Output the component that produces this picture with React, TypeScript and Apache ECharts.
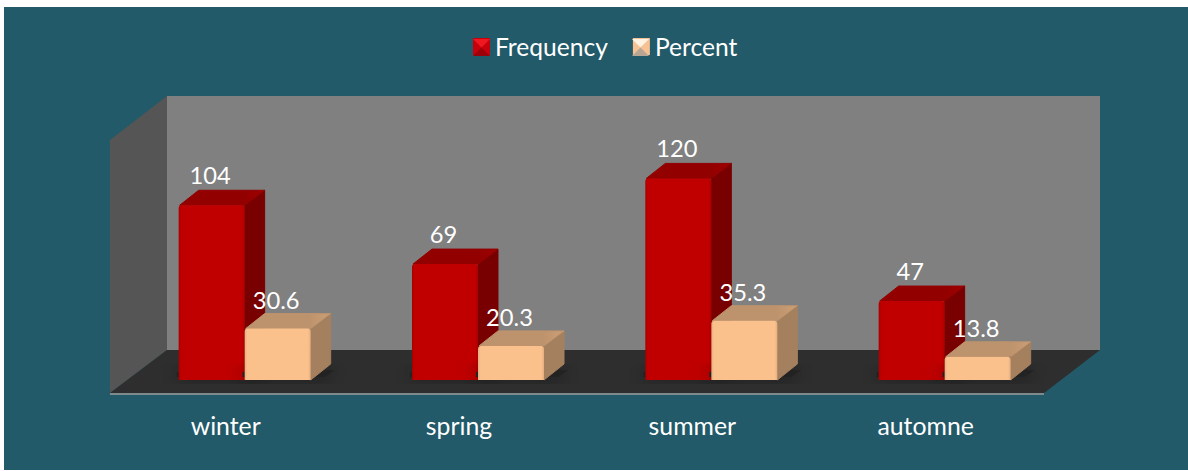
import React, { useEffect, useRef } from "react";
import * as echarts from "echarts";

const categories = ["winter", "spring", "summer", "automne"];
const frequency = [104, 69, 120, 47];
const percent = [30.6, 20.3, 35.3, 13.8];

const FONT = "Lato";
const TEXT = "#ffffff";
const BG = "#225a69";
const DX = 20;
const DY = -16;

type Tone = { front: string; edge: string; top: string; topHi: string; side: string; labelGap: number };
const RED: Tone = { front: "#c00000", edge: "#a80000", top: "#920000", topHi: "#a00000", side: "#780000", labelGap: 14 };
const PEACH: Tone = { front: "#fac18d", edge: "#e6ae7e", top: "#bd936d", topHi: "#cc9f76", side: "#a5805f", labelGap: 13 };

function barRenderer(tone: Tone, offset: number) {
  return (_params: any, api: any) => {
    const idx = api.value(0);
    const val = api.value(1);
    const top = api.coord([idx, val]);
    const base = api.coord([idx, 0]);
    const w = api.size([1, 0])[0] * 0.2829;
    const x = top[0] + offset * w;
    const yT = top[1];
    const yB = base[1];
    const hGrad = new echarts.graphic.LinearGradient(0, 0, 1, 0, [
      { offset: 0, color: tone.edge },
      { offset: 0.04, color: tone.front },
      { offset: 0.96, color: tone.front },
      { offset: 1, color: tone.edge },
    ]);
    const topGrad = new echarts.graphic.LinearGradient(0, 0, 1, 0, [
      { offset: 0, color: tone.top },
      { offset: 0.75, color: tone.top },
      { offset: 1, color: tone.topHi },
    ]);
    return {
      type: "group",
      children: [
        {
          type: "polygon",
          z2: 0,
          shape: {
            points: [[x - 2, yB - 8], [x + w + DX + 4, yB + DY + 6], [x + w + DX - 6, yB - 3], [x - 2, yB - 3]],
          },
          style: { fill: "#222222", shadowBlur: 20, shadowColor: "rgba(0,0,0,0.75)" },
          silent: true,
        },
        {
          type: "polygon",
          z2: 5,
          shape: { points: [[x + w, yT], [x + w + DX, yT + DY + 1], [x + w + DX, yB + DY], [x + w, yB]] },
          style: { fill: tone.side, stroke: tone.side, lineWidth: 1, lineJoin: "round" },
        },
        {
          type: "polygon",
          z2: 6,
          shape: { points: [[x + 1, yT], [x + DX, yT + DY + 1], [x + w + DX, yT + DY + 1], [x + w, yT]] },
          style: { fill: topGrad, stroke: tone.top, lineWidth: 1, lineJoin: "round" },
        },
        {
          type: "rect",
          z2: 7,
          shape: { x, y: yT, width: w, height: yB - yT, r: [3, 3, 0, 0] },
          style: { fill: hGrad },
        },
        {
          type: "text",
          z2: 20,
          style: {
            text: String(val),
            x: x + w / 2 - 1.5,
            y: yT + DY - tone.labelGap,
            fill: TEXT,
            fontFamily: FONT,
            fontSize: 23.7,
            align: "center",
            verticalAlign: "middle",
          },
        },
      ],
    };
  };
}

export default function App() {
  const ref = useRef<HTMLDivElement | null>(null);
  useEffect(() => {
    document.body.style.margin = "0";
    document.body.style.background = "#ffffff";
    const chart = echarts.init(ref.current!, undefined, { renderer: "svg" });
    const toData = (vals: number[]) => vals.map((v, i) => [i, v]);
    chart.setOption({
      animation: false,
      backgroundColor: "#ffffff",
      textStyle: { fontFamily: FONT },
      grid: { left: 128, width: 933.33, top: 144.8, height: 235.2 },
      legend: {
        left: 473,
        top: 34,
        padding: 0,
        icon: "rect",
        itemWidth: 17,
        itemHeight: 17,
        itemGap: 25,
        textStyle: { color: TEXT, fontSize: 24.6, fontFamily: FONT },
        data: [
          { name: "Frequency", itemStyle: { color: "#c8000c" } },
          { name: "Percent", itemStyle: { color: "#f6c294" } },
        ],
      },
      xAxis: {
        type: "category",
        data: categories,
        axisLine: { show: false },
        axisTick: { show: false },
        axisLabel: {
          interval: 0,
          color: TEXT,
          fontSize: 24.8,
          fontFamily: FONT,
          margin: 33,
          padding: [0, 38, 0, 0],
        },
      },
      yAxis: { type: "value", min: 0, max: 140, show: false },
      graphic: {
        elements: [
          { type: "rect", z: -10, shape: { x: 4, y: 7, width: 1184, height: 463 }, style: { fill: BG } },
          {
            type: "polygon",
            z: -9,
            shape: { points: [[167, 96], [1100, 96], [1100, 350], [167, 350]] },
            style: { fill: "#808080" },
          },
          {
            type: "polygon",
            z: -9,
            shape: { points: [[110, 140], [167, 96], [167, 350], [110, 393]] },
            style: { fill: "#555555" },
          },
          {
            type: "polygon",
            z: -8,
            shape: { points: [[110, 393], [167, 350], [1100, 350], [1044, 393]] },
            style: { fill: "#2e2e2e" },
          },
          {
            type: "rect",
            z: -8,
            shape: { x: 110, y: 393, width: 934, height: 2 },
            style: { fill: "#7f8a8c" },
          },
          { type: "polygon", z: 50, shape: { points: [[473, 39], [490, 39], [481.5, 47.5]] }, style: { fill: "#f01820" } },
          { type: "polygon", z: 50, shape: { points: [[473, 56], [490, 56], [481.5, 47.5]] }, style: { fill: "#9c0008" } },
          { type: "polygon", z: 50, shape: { points: [[632, 39], [649, 39], [640.5, 47.5]] }, style: { fill: "#fff2e2" } },
          { type: "polygon", z: 50, shape: { points: [[632, 56], [649, 56], [640.5, 47.5]] }, style: { fill: "#b8a593" } },
        ],
      },
      series: [
        {
          name: "Frequency",
          type: "custom",
          renderItem: barRenderer(RED, -1),
          data: toData(frequency),
          encode: { x: 0, y: 1 },
          clip: false,
          z: 2,
        },
        {
          name: "Percent",
          type: "custom",
          renderItem: barRenderer(PEACH, 0),
          data: toData(percent),
          encode: { x: 0, y: 1 },
          clip: false,
          z: 3,
        },
      ],
    });
    return () => chart.dispose();
  }, []);
  return <div ref={ref} style={{ width: 1188, height: 471 }} />;
}
